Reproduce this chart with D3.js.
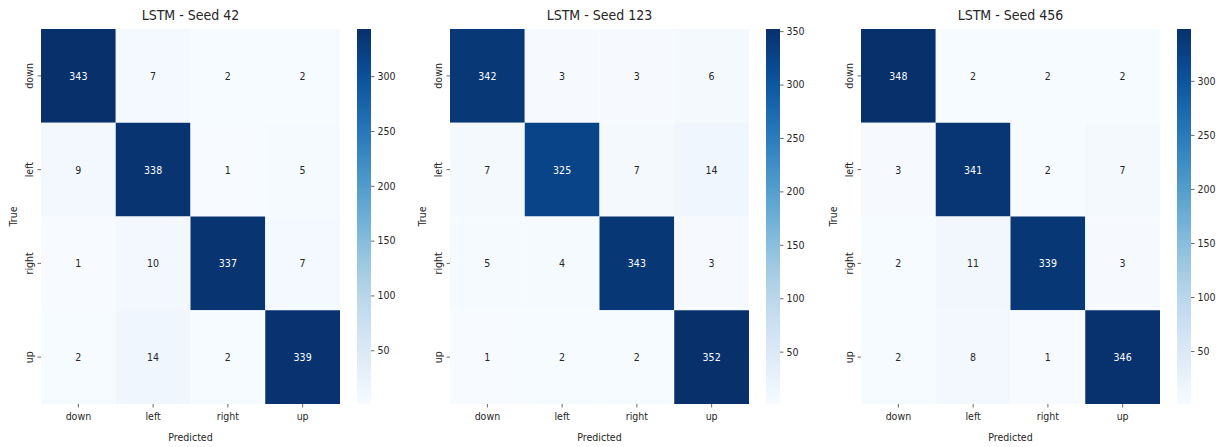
<!DOCTYPE html>
<html>
<head>
<meta charset="utf-8">
<script src="https://cdn.jsdelivr.net/npm/d3@7"></script>
<style>
  body { margin: 0; background: #fff; }
  text { font-family: "DejaVu Sans Condensed", "DejaVu Sans", sans-serif; font-stretch: condensed; fill: #262626; }
</style>
</head>
<body>
<div id="chart"></div>
<script>
// labels and values
const labels = ["down", "left", "right", "up"];
const titles = ["LSTM - Seed 42", "LSTM - Seed 123", "LSTM - Seed 456"];
const seed42 = [[343, 7, 2, 2], [9, 338, 1, 5], [1, 10, 337, 7], [2, 14, 2, 339]];
const seed123 = [[342, 3, 3, 6], [7, 325, 7, 14], [5, 4, 343, 3], [1, 2, 2, 352]];
const seed456 = [[348, 2, 2, 2], [3, 341, 2, 7], [2, 11, 339, 3], [2, 8, 1, 346]];
const barTicks = [50, 100, 150, 200, 250, 300, 350];

const matrices = [seed42, seed123, seed456];

const W = 1220, H = 447;
const panelX = [41, 450, 861];   // heatmap left edges
const hmW = 299, hmTop = 29, hmH = 375;
const cbGap = 17, cbW = 14;

const svg = d3.select("#chart").append("svg")
  .attr("width", W).attr("height", H);

const defs = svg.append("defs");
const grad = defs.append("linearGradient").attr("id", "blues")
  .attr("x1", 0).attr("y1", 1).attr("x2", 0).attr("y2", 0);
d3.range(0, 1.0001, 0.05).forEach(t => {
  grad.append("stop").attr("offset", t).attr("stop-color", d3.interpolateBlues(t));
});

function lum(c) {
  const rgb = d3.rgb(c);
  const f = v => { v /= 255; return v <= 0.03928 ? v / 12.92 : Math.pow((v + 0.055) / 1.055, 2.4); };
  return 0.2126 * f(rgb.r) + 0.7152 * f(rgb.g) + 0.0722 * f(rgb.b);
}

matrices.forEach((m, i) => {
  const flat = m.flat();
  const vmin = d3.min(flat), vmax = d3.max(flat);
  const color = d3.scaleSequential(d3.interpolateBlues).domain([vmin, vmax]);

  const g = svg.append("g").attr("transform", `translate(${panelX[i]},${hmTop})`);
  const x = d3.scaleBand().domain(labels).range([0, hmW]);
  const y = d3.scaleBand().domain(labels).range([0, hmH]);

  const cells = [];
  m.forEach((row, r) => row.forEach((v, c) => cells.push({ t: labels[r], p: labels[c], v })));

  g.selectAll("rect.cell").data(cells).join("rect")
    .attr("class", "cell")
    .attr("x", d => x(d.p)).attr("y", d => y(d.t))
    .attr("width", x.bandwidth()).attr("height", y.bandwidth())
    .attr("fill", d => color(d.v));

  g.selectAll("text.val").data(cells).join("text")
    .attr("class", "val")
    .attr("x", d => x(d.p) + x.bandwidth() / 2)
    .attr("y", d => y(d.t) + y.bandwidth() / 2)
    .attr("text-anchor", "middle").attr("dominant-baseline", "central")
    .style("font-size", "10.5px")
    .style("fill", d => lum(color(d.v)) > 0.408 ? "#262626" : "#ffffff")
    .text(d => d.v);

  // axes
  const xa = g.append("g").attr("transform", `translate(0,${hmH})`)
    .call(d3.axisBottom(x).tickSize(3.5).tickPadding(5));
  const ya = g.append("g").call(d3.axisLeft(y).tickSize(3.5).tickPadding(4));
  [xa, ya].forEach(a => {
    a.select(".domain").remove();
    a.selectAll("line").attr("stroke", "#444").attr("stroke-width", 0.8);
    a.selectAll("text").style("font-size", "10.5px").attr("fill", "#262626");
  });
  ya.selectAll(".tick text")
    .attr("transform", "rotate(-90)")
    .attr("x", 0).attr("y", -8)
    .attr("dy", "0").attr("text-anchor", "middle");

  g.append("text").attr("x", hmW / 2).attr("y", -9)
    .attr("text-anchor", "middle").style("font-size", "14px").text(titles[i]);
  g.append("text").attr("x", hmW / 2).attr("y", hmH + 37)
    .attr("text-anchor", "middle").style("font-size", "10.5px").text("Predicted");
  g.append("text").attr("transform", `translate(-24,${hmH / 2}) rotate(-90)`)
    .attr("text-anchor", "middle").style("font-size", "10.5px").text("True");

  // colorbar
  const cb = g.append("g").attr("transform", `translate(${hmW + cbGap},0)`);
  cb.append("rect").attr("width", cbW).attr("height", hmH).attr("fill", "url(#blues)");
  const cy = d3.scaleLinear().domain([vmin, vmax]).range([hmH, 0]);
  const ca = cb.append("g").attr("transform", `translate(${cbW},0)`)
    .call(d3.axisRight(cy).tickValues(barTicks.filter(t => t <= vmax)).tickSize(3.5).tickPadding(3));
  ca.select(".domain").remove();
  ca.selectAll("line").attr("stroke", "#444").attr("stroke-width", 0.8);
  ca.selectAll("text").style("font-size", "10.5px").attr("fill", "#262626");
});
</script>
</body>
</html>
